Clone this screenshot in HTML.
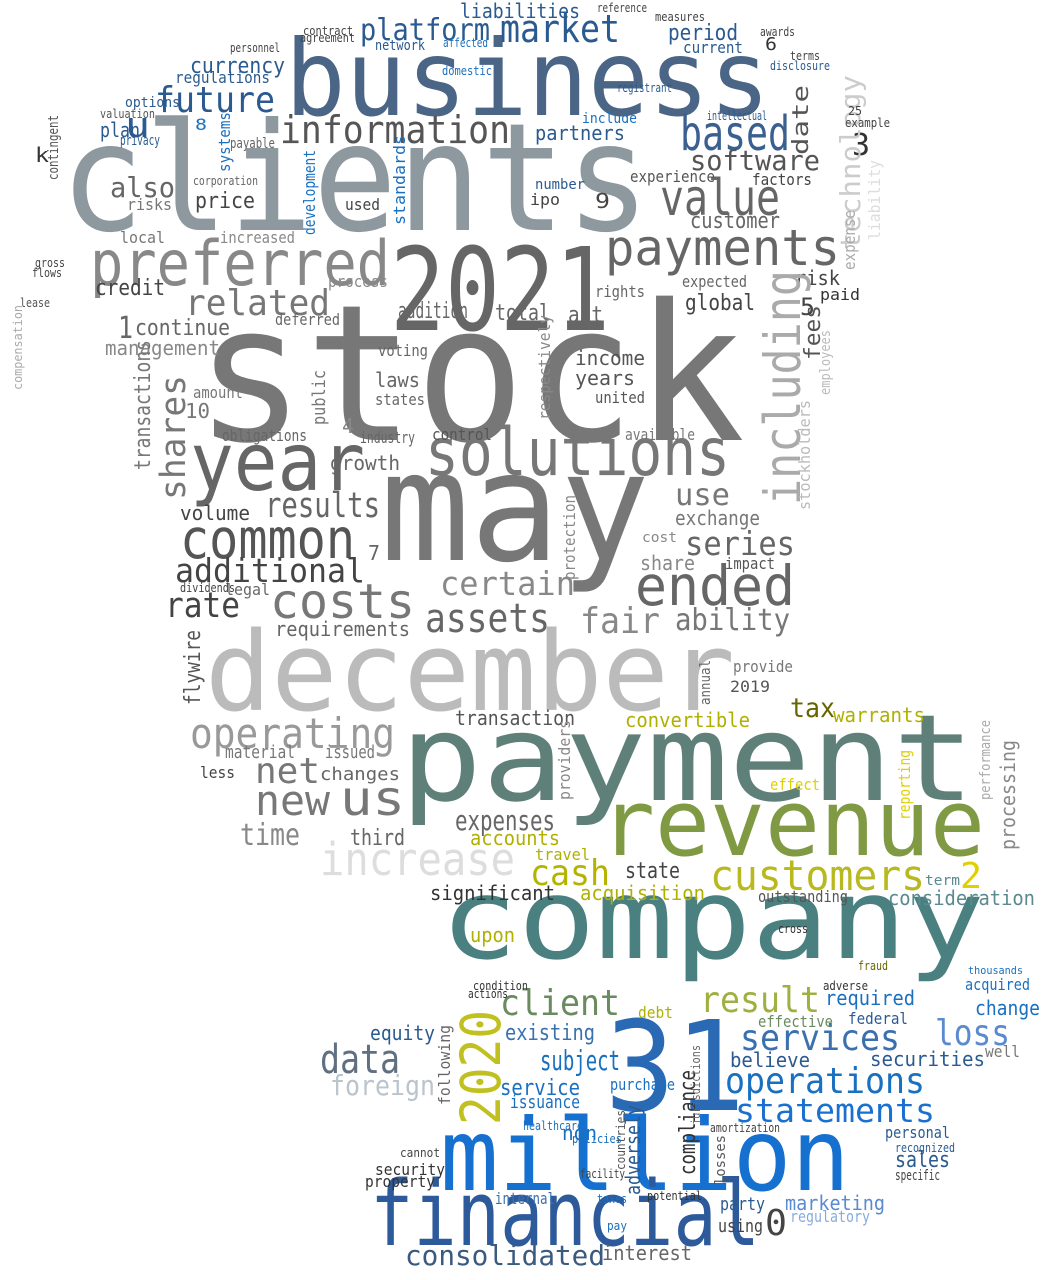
<!DOCTYPE html>
<html><head><meta charset="utf-8"><style>
html,body{margin:0;padding:0;background:#fff;}
svg{display:block;}
text{font-family:"DejaVu Sans Mono","Liberation Mono",monospace;}
</style></head><body>
<svg id="cloud" width="1046" height="1280" viewBox="0 0 1046 1280" xmlns="http://www.w3.org/2000/svg">
<rect width="1046" height="1280" fill="#fff"/>
</svg>
<script>
// word, x, baseline y, font size, color, text width, rotation
const words = [
["business",285,115,105,"#4a6585",485,0],
["clients",60,230,150,"#8e989f",590,0],
["stock",195,440,190,"#777777",550,0],
["2021",390,330,115,"#666666",220,0],
["may",380,560,152,"#777777",270,0],
["december",205,710,110,"#bbbbbb",530,0],
["payment",400,800,120,"#5f8078",575,0],
["revenue",600,855,92,"#7f9a42",385,0],
["company",440,958,112,"#4a8080",545,0],
["31",605,1110,125,"#2a6ab5",140,0],
["million",440,1190,100,"#1670d0",410,0],
["financial",370,1245,90,"#2d5a9a",390,0],
["consolidated",405,1265,28,"#3a5a80",200,0],
["year",190,490,80,"#666666",175,0],
["solutions",425,475,66,"#777777",305,0],
["preferred",90,285,62,"#888888",300,0],
["payments",605,265,50,"#666666",235,0],
["value",660,215,50,"#666666",120,0],
["based",680,150,48,"#3a6090",110,0],
["information",280,143,38,"#555555",230,0],
["platform",360,40,30,"#2a5a90",130,0],
["market",500,42,38,"#2a5a90",120,0],
["future",155,112,36,"#2a5a90",120,0],
["common",180,558,55,"#555555",175,0],
["results",265,517,35,"#666666",115,0],
["additional",175,582,33,"#444444",190,0],
["costs",270,618,48,"#777777",145,0],
["rate",165,617,35,"#444444",75,0],
["ended",635,605,55,"#666666",160,0],
["assets",425,632,40,"#666666",125,0],
["fair",580,633,36,"#888888",80,0],
["certain",440,595,33,"#888888",135,0],
["series",685,555,33,"#666666",110,0],
["operating",190,748,42,"#999999",205,0],
["new",255,815,42,"#777777",75,0],
["us",340,815,48,"#777777",65,0],
["net",255,783,36,"#777777",65,0],
["increase",320,875,45,"#dddddd",195,0],
["time",240,845,30,"#888888",60,0],
["expenses",455,830,28,"#666666",100,0],
["cash",530,885,36,"#b4b400",80,0],
["customers",710,890,42,"#b8b820",215,0],
["client",500,1015,36,"#6a8a60",120,0],
["result",700,1012,36,"#a0b040",120,0],
["services",740,1050,36,"#3a70b0",160,0],
["operations",725,1093,36,"#1a70c0",200,0],
["statements",735,1122,33,"#1a70d0",200,0],
["data",320,1073,40,"#607080",80,0],
["foreign",330,1095,28,"#bbc4cc",105,0],
["subject",540,1070,28,"#1a70c0",80,0],
["loss",935,1045,36,"#5a8ad0",75,0],
["sales",895,1167,22,"#2a5a90",55,0],
["0",765,1235,36,"#444444",22,0],
["2",960,888,36,"#e0d000",22,0],
["3",852,155,30,"#333333",18,0],
["tax",790,717,27,"#666600",45,0],
["convertible",625,727,20,"#b0b000",125,0],
["warrants",833,722,20,"#b0b000",92,0],
["consideration",888,905,20,"#5a8a90",147,0],
["acquisition",580,900,20,"#b0b000",125,0],
["significant",430,900,20,"#333333",125,0],
["software",690,170,28,"#555555",130,0],
["customer",690,228,22,"#666666",90,0],
["also",110,197,28,"#666666",65,0],
["price",195,208,22,"#444444",60,0],
["related",185,315,36,"#777777",145,0],
["continue",135,335,22,"#666666",95,0],
["management",105,355,20,"#888888",115,0],
["credit",95,295,22,"#444444",70,0],
["u",125,137,35,"#2a5a90",25,0],
["currency",190,73,22,"#2a5a90",95,0],
["regulations",175,83,16,"#2a5a90",95,0],
["partners",535,140,20,"#2a5a90",90,0],
["liabilities",460,18,20,"#2a5a90",120,0],
["period",668,40,22,"#2a5a90",70,0],
["current",683,53,16,"#2a5a90",60,0],
["global",685,310,22,"#444444",70,0],
["risk",795,285,20,"#444444",45,0],
["total",495,320,22,"#666666",55,0],
["act",568,322,22,"#666666",35,0],
["addition",398,318,22,"#666666",70,0],
["income",575,365,20,"#555555",70,0],
["years",575,385,20,"#555555",60,0],
["united",595,403,16,"#555555",50,0],
["growth",330,470,20,"#666666",70,0],
["control",432,440,16,"#555555",60,0],
["industry",360,443,16,"#666666",55,0],
["use",675,505,30,"#777777",55,0],
["exchange",675,525,20,"#777777",85,0],
["volume",180,520,20,"#444444",70,0],
["share",640,570,20,"#888888",55,0],
["ability",675,630,30,"#777777",115,0],
["requirements",275,636,20,"#666666",135,0],
["transaction",455,725,20,"#555555",120,0],
["issued",325,758,18,"#777777",50,0],
["changes",320,780,18,"#666666",80,0],
["third",350,845,22,"#666666",55,0],
["material",225,758,18,"#777777",70,0],
["less",200,778,16,"#444444",35,0],
["state",625,878,22,"#444444",55,0],
["upon",470,942,20,"#b0b000",45,0],
["accounts",470,845,20,"#b0b000",90,0],
["travel",535,860,16,"#b0b000",55,0],
["existing",505,1040,22,"#3a70b0",90,0],
["equity",370,1040,20,"#2a5a90",65,0],
["service",500,1095,22,"#1a70c0",80,0],
["issuance",510,1108,18,"#1a70c0",70,0],
["purchase",610,1090,16,"#1a70c0",65,0],
["believe",730,1067,20,"#2a5a90",80,0],
["securities",870,1066,20,"#2a5a90",115,0],
["required",825,1005,20,"#1a70c0",90,0],
["change",975,1015,20,"#1a70c0",65,0],
["federal",848,1024,16,"#2a5a90",60,0],
["effective",758,1027,16,"#6a8a60",75,0],
["debt",638,1018,16,"#b0b000",35,0],
["non",562,1140,20,"#1a70c0",35,0],
["security",375,1175,16,"#333333",70,0],
["property",365,1187,16,"#333333",70,0],
["internal",495,1204,16,"#3a70b0",60,0],
["interest",602,1260,20,"#666666",90,0],
["marketing",785,1210,20,"#5a8ad0",100,0],
["regulatory",790,1222,16,"#88aadd",80,0],
["personal",885,1138,16,"#2a5a90",65,0],
["party",720,1210,18,"#2a5a90",45,0],
["using",718,1232,18,"#444444",45,0],
["provide",733,672,16,"#777777",60,0],
["2019",730,692,16,"#555555",40,0],
["legal",225,595,16,"#666666",45,0],
["obligations",222,441,16,"#666666",85,0],
["amount",193,398,16,"#777777",50,0],
["10",185,418,20,"#777777",25,0],
["states",375,405,16,"#666666",50,0],
["laws",375,387,20,"#666666",45,0],
["voting",378,356,16,"#666666",50,0],
["experience",630,182,16,"#555555",85,0],
["factors",752,185,16,"#444444",60,0],
["expected",682,287,16,"#666666",65,0],
["rights",595,297,16,"#666666",50,0],
["deferred",275,325,16,"#666666",65,0],
["process",328,287,16,"#888888",60,0],
["including",800,505,50,"#aaaaaa",235,-90],
["shares",185,500,35,"#777777",125,-90],
["2020",500,1125,55,"#c0c020",115,-90],
["technology",860,250,28,"#cccccc",175,-90],
["transactions",150,470,22,"#777777",130,-90],
["flywire",200,705,22,"#555555",75,-90],
["compliance",695,1175,22,"#333333",105,-90],
["adversely",640,1195,20,"#2a5a90",90,-90],
["date",808,155,22,"#555555",70,-90],
["fees",820,360,22,"#555555",55,-90],
["processing",1015,850,20,"#888888",110,-90],
["standards",405,225,16,"#1a70c0",90,-90],
["systems",230,172,16,"#1a70c0",60,-90],
["development",315,235,16,"#1a70c0",85,-90],
["stockholders",810,510,16,"#bbbbbb",110,-90],
["respectively",550,420,16,"#888888",105,-90],
["protection",575,580,16,"#888888",85,-90],
["public",325,425,18,"#777777",55,-90],
["following",450,1105,16,"#666666",80,-90],
["providers",570,800,16,"#888888",80,-90],
["jurisdictions",700,1125,12,"#666666",80,-90],
["reporting",910,820,16,"#e0d000",70,-90],
["compensation",22,390,12,"#aaaaaa",85,-90],
["contingent",58,180,14,"#555555",65,-90],
["employees",830,395,14,"#bbbbbb",65,-90],
["expense",855,270,16,"#aaaaaa",60,-90],
["liability",880,240,16,"#dddddd",80,-90],
["performance",990,800,14,"#aaaaaa",80,-90],
["annual",710,705,14,"#666666",45,-90],
["countries",625,1170,12,"#555555",60,-90],
["losses",725,1185,14,"#555555",50,-90],
["plan",100,137,20,"#2a5a90",40,0],
["k",35,162,20,"#333333",14,0],
["options",125,107,14,"#2a5a90",55,0],
["risks",127,210,16,"#777777",45,0],
["local",120,243,16,"#777777",45,0],
["increased",220,243,16,"#888888",75,0],
["used",345,210,16,"#444444",35,0],
["number",535,189,14,"#2a5a90",50,0],
["ipo",530,205,16,"#444444",30,0],
["9",595,208,20,"#444444",15,0],
["5",800,315,24,"#444444",15,0],
["1",118,338,30,"#666666",15,0],
["4",342,433,20,"#888888",12,0],
["7",368,560,20,"#666666",12,0],
["paid",820,300,16,"#333333",40,0],
["available",625,440,16,"#777777",70,0],
["impact",725,569,16,"#555555",50,0],
["cost",642,542,14,"#888888",35,0],
["dividends",180,592,12,"#444444",55,0],
["well",985,1057,16,"#777777",35,0],
["acquired",965,990,16,"#1a70c0",65,0],
["thousands",968,974,11,"#1a70c0",55,0],
["term",925,885,14,"#5a8a90",35,0],
["outstanding",758,902,16,"#555555",90,0],
["effect",770,790,16,"#e0d000",50,0],
["healthcare",523,1130,12,"#1a70c0",60,0],
["amortization",710,1132,12,"#444444",70,0],
["recognized",895,1152,12,"#2a5a90",60,0],
["specific",895,1180,14,"#444444",45,0],
["cannot",400,1157,12,"#444444",40,0],
["pay",607,1230,12,"#1a70c0",20,0],
["taxes",597,1203,12,"#1a70c0",30,0],
["potential",647,1200,12,"#333333",55,0],
["facility",580,1178,12,"#444444",45,0],
["policies",572,1143,12,"#1a70c0",50,0],
["condition",473,990,12,"#333333",55,0],
["actions",468,998,12,"#333333",40,0],
["cross",778,933,12,"#333333",30,0],
["adverse",823,990,12,"#333333",45,0],
["fraud",858,970,12,"#666600",30,0],
["lease",20,307,12,"#555555",30,0],
["gross",35,267,12,"#444444",30,0],
["flows",32,277,12,"#444444",30,0],
["payable",230,148,14,"#666666",45,0],
["corporation",193,185,12,"#666666",65,0],
["privacy",120,145,14,"#2a5a90",40,0],
["valuation",100,118,12,"#555555",55,0],
["8",195,130,16,"#1a70c0",12,0],
["6",765,50,18,"#333333",12,0],
["25",848,115,12,"#444444",14,0],
["example",845,127,12,"#444444",45,0],
["awards",760,36,12,"#444444",35,0],
["measures",655,21,12,"#444444",50,0],
["reference",597,12,12,"#444444",50,0],
["contract",303,35,12,"#444444",50,0],
["agreement",300,42,12,"#444444",55,0],
["personnel",230,52,12,"#444444",50,0],
["network",375,50,14,"#2a5a90",50,0],
["affected",443,47,12,"#1a70c0",45,0],
["intellectual",707,120,12,"#2a5a90",60,0],
["registrant",617,92,12,"#2a5a90",55,0],
["include",582,123,14,"#1a70c0",55,0],
["disclosure",770,70,12,"#2a5a90",60,0],
["terms",790,60,12,"#444444",30,0],
["domestic",442,75,12,"#1a70c0",50,0]
];
const svg = document.getElementById('cloud');
const NS = 'http://www.w3.org/2000/svg';
words.forEach(w => {
  const t = document.createElementNS(NS, 'text');
  t.setAttribute('x', w[1]);
  t.setAttribute('y', w[2]);
  t.setAttribute('font-size', w[3]);
  t.setAttribute('fill', w[4]);
  t.setAttribute('textLength', w[5]);
  t.setAttribute('lengthAdjust', 'spacingAndGlyphs');
  if (w[6]) t.setAttribute('transform', 'rotate(' + w[6] + ' ' + w[1] + ' ' + w[2] + ')');
  t.textContent = w[0];
  
  
  svg.appendChild(t);
});
</script>
</body></html>
